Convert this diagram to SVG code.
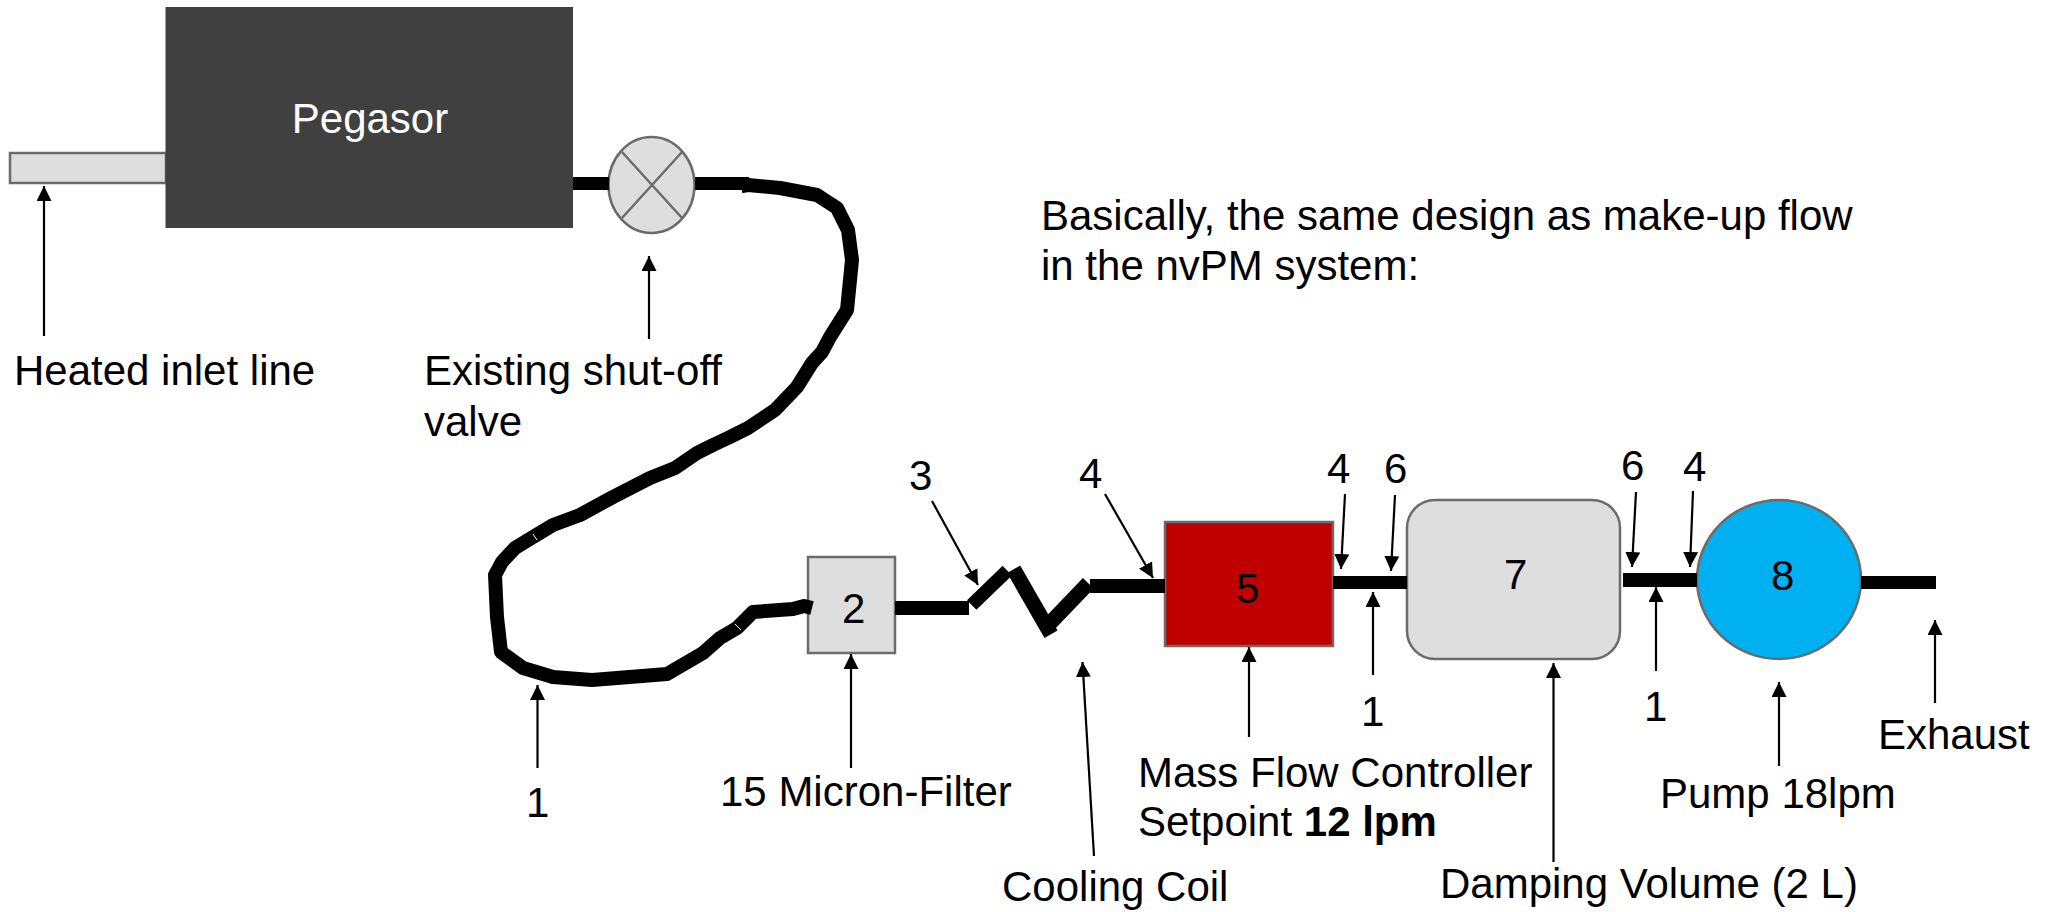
<svg xmlns="http://www.w3.org/2000/svg" width="2053" height="912" viewBox="0 0 2053 912">
<style>
text{font-family:"Liberation Sans",Arial,sans-serif;font-size:42px;fill:#000}
.s{stroke:#6b6b6b;stroke-width:2.5}
.g{fill:#dedede}
.p{fill:#000;stroke:none}
.a{stroke:#000;stroke-width:2.2;fill:none;marker-end:url(#h)}
.c{fill:none;stroke:#000;stroke-linejoin:round}
</style>
<defs>
<marker id="h" markerUnits="userSpaceOnUse" markerWidth="15" markerHeight="15" refX="15" refY="7.500" orient="auto"><path d="M0 0L15 7.500L0 15Z" fill="#000"/></marker>
</defs>
<g id="inlet"><rect class="g s" x="10" y="153" width="156" height="30"/></g>
<g id="pegasor"><rect x="165.500" y="7" width="407.500" height="221" fill="#404040"/><text x="370" y="133" text-anchor="middle" style="fill:#fff">Pegasor</text></g>
<g id="valve"><ellipse class="g s" cx="651.500" cy="185" rx="43" ry="48"/><path d="M622 152L682 218M682 152L622 218" stroke="#6b6b6b" stroke-width="2.500" fill="none"/></g>
<g id="filter"><rect class="g s" x="808" y="557" width="87" height="96"/><text x="842" y="623">2</text></g>
<g id="mfc"><rect class="s" x="1165" y="522" width="168" height="124" fill="#c00000"/><text x="1236" y="603">5</text></g>
<g id="damper"><rect class="g s" x="1407" y="500" width="213" height="159" rx="28" ry="28"/><text x="1504" y="589">7</text></g>
<g id="pump"><ellipse class="s" cx="1779" cy="579.500" rx="82" ry="79.500" fill="#00b0f0"/><text x="1771" y="590">8</text></g>
<g id="connectors">
<rect class="p" x="573" y="177" width="36" height="13"/>
<rect class="p" x="695" y="177" width="54" height="13"/>
<path class="c" stroke-width="14" d="M741 186.500L748 185L780 188L817 195L837 208L848 230L852 260L847 310L830 337L822 352L812 363L797 387L775 410L748 428L730 437L713 445L697 453L675 468L650 478L613 497L580 515L553 525L533 537L515 548L502 562L495 575L497 617L501 652L523 668L553 677L592 680L667 674L703 653L720 638L737 628L753 612L793 609L804 606L812 608"/>
<path d="M533 534L537 540M735 624L741 630" stroke="#fff" stroke-width="1" fill="none"/>
<rect class="p" x="895" y="601" width="74" height="14"/>
<path class="c" stroke-width="13.500" d="M971.700 605L1007.300 570.700"/>
<path class="c" stroke-width="15" d="M1013.700 569.300L1051 634.300"/>
<path class="c" stroke-width="15" d="M1050 623.300L1088.300 583.300"/>
<rect class="p" x="1090" y="579" width="75" height="14"/>
<rect class="p" x="1333" y="576" width="74" height="13"/>
<rect class="p" x="1623" y="573" width="74" height="14"/>
<rect class="p" x="1861" y="576" width="75" height="13"/>
<path class="a" d="M44 336V186"/>
<path class="a" d="M649 339V256"/>
<path class="a" d="M537.500 768V685"/>
<path class="a" d="M851 768V654"/>
<path class="a" d="M932 501L978 585"/>
<path class="a" d="M1105 494L1153 578"/>
<path class="a" d="M1094 856L1082.500 662"/>
<path class="a" d="M1249 737V647"/>
<path class="a" d="M1345 494L1341 569"/>
<path class="a" d="M1395 495L1391 571"/>
<path class="a" d="M1373 675V592"/>
<path class="a" d="M1636 492L1632 567"/>
<path class="a" d="M1693 491L1690 567"/>
<path class="a" d="M1656 671V587"/>
<path class="a" d="M1553.500 862V663"/>
<path class="a" d="M1779 766V682"/>
<path class="a" d="M1935 703V620"/>
</g>
<g id="labels">
<text x="14" y="385">Heated inlet line</text>
<text x="424" y="385">Existing shut-off</text>
<text x="424" y="436">valve</text>
<text x="1041" y="230">Basically, the same design as make-up flow</text>
<text x="1041" y="280">in the nvPM system:</text>
<text x="526" y="817">1</text>
<text x="720" y="806">15 Micron-Filter</text>
<text x="909" y="490">3</text>
<text x="1079" y="488">4</text>
<text x="1002" y="901">Cooling Coil</text>
<text x="1138" y="787">Mass Flow Controller</text>
<text x="1138" y="836">Setpoint <tspan font-weight="bold">12 lpm</tspan></text>
<text x="1327" y="483">4</text>
<text x="1384" y="483">6</text>
<text x="1361" y="726">1</text>
<text x="1621" y="480">6</text>
<text x="1683" y="481">4</text>
<text x="1644" y="721">1</text>
<text x="1878" y="749">Exhaust</text>
<text x="1660" y="808">Pump 18lpm</text>
<text x="1440" y="898">Damping Volume (2 L)</text>
</g>
</svg>
